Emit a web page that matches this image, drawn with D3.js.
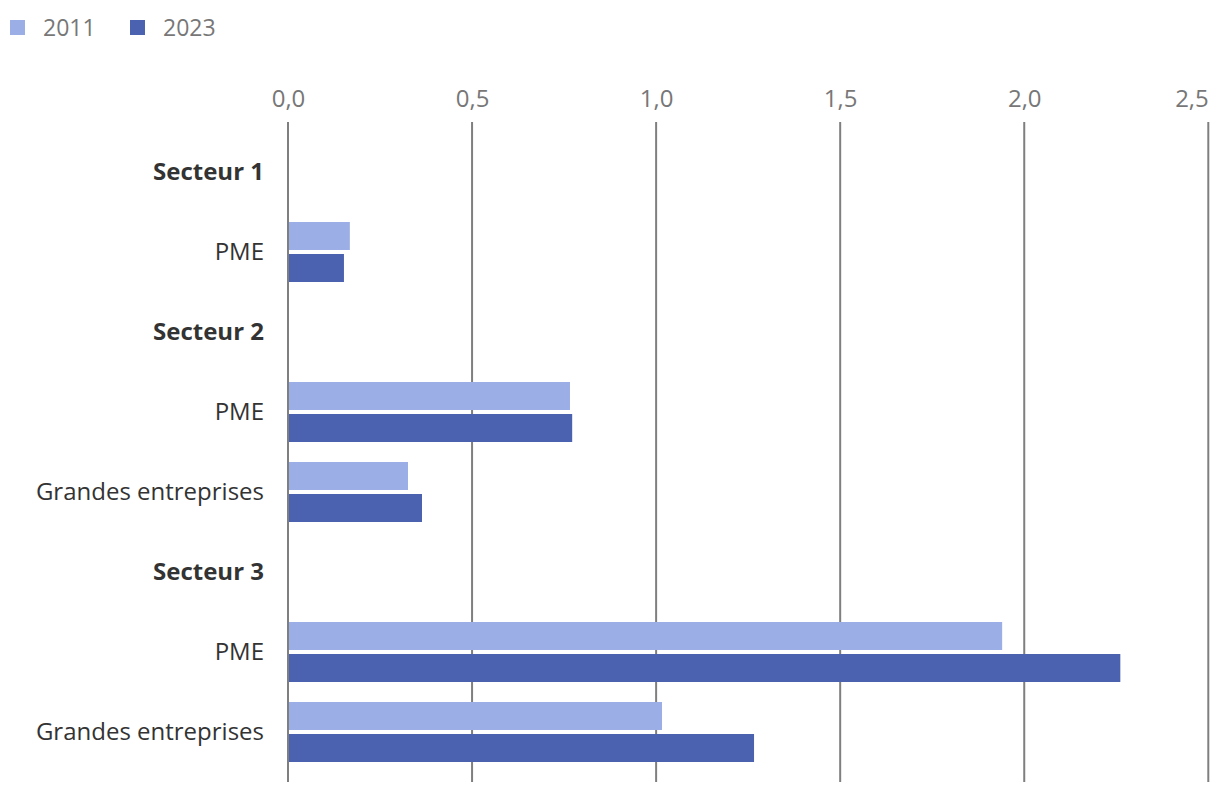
<!DOCTYPE html>
<html><head><meta charset="utf-8">
<script src="https://cdn.jsdelivr.net/npm/d3@7"></script>
<style>
html,body{margin:0;padding:0;background:#fff;}
text{font-family:"Open Sans","Noto Sans",sans-serif;}
</style></head>
<body><svg id="chart" width="1220" height="794"></svg>
<script>
const rows = ["Secteur 1","PME","Secteur 2","PME","Grandes entreprises","Secteur 3","PME","Grandes entreprises"];
const isHeader = [true,false,true,false,false,true,false,false];
const series = ["2011","2023"];
const values2011 = [null,0.168,null,0.766,0.326,null,1.940,1.016];
const values2023 = [null,0.152,null,0.772,0.364,null,2.261,1.266];
const xTicks = [0,0.5,1.0,1.5,2.0,2.5];
const colors = ["#9caee6","#4a62b0"];

const svg = d3.select("#chart");
const x = d3.scaleLinear().domain([0,2.5]).range([288,1208.3]);
const y = d3.scaleBand().domain(d3.range(rows.length)).range([132,772]).padding(0);
const y1 = d3.scaleBand().domain(series).range([10,70]).paddingInner(0.125).paddingOuter(0);
const fmt = d => d.toFixed(1).replace(".",",");

// gridlines
svg.append("g").selectAll("line").data(xTicks).join("line")
  .attr("x1",d=>x(d)).attr("x2",d=>x(d)).attr("y1",122).attr("y2",782)
  .attr("stroke","#7f7f7f").attr("stroke-width",2);

// top axis labels
const ax = svg.append("g").attr("transform","translate(0,107)")
  .call(d3.axisTop(x).tickValues(xTicks).tickFormat(fmt).tickSize(0).tickPadding(0));
ax.select(".domain").remove();
ax.selectAll("text").attr("font-size",24).attr("fill","#777")
  .attr("font-family","'Open Sans',sans-serif").attr("dy",0)
  .attr("text-anchor",(d,i)=> i===xTicks.length-1 ? "end" : "middle");

// bars
const data = [values2011, values2023];
series.forEach((s,si)=>{
  svg.append("g").selectAll("rect")
    .data(rows.map((r,i)=>({i,v:data[si][i]})).filter(d=>d.v!=null))
    .join("rect")
    .attr("x",x(0)+1).attr("y",d=>y(d.i)+y1(s))
    .attr("width",d=>x(d.v)-x(0)-1).attr("height",y1.bandwidth())
    .attr("fill",colors[si]);
});

// row labels
svg.append("g").selectAll("text").data(rows).join("text")
  .attr("x",264).attr("y",(d,i)=>y(i)+y.bandwidth()/2+8)
  .attr("text-anchor","end").attr("font-size",24)
  .attr("font-weight",(d,i)=>isHeader[i]?"bold":"normal")
  .attr("fill","#333").text(d=>d);

// legend
const legX = [10,130];
const lg = svg.append("g");
series.forEach((s,i)=>{
  lg.append("rect").attr("x",legX[i]).attr("y",20).attr("width",15).attr("height",15).attr("fill",colors[i]);
  lg.append("text").attr("x",legX[i]+33).attr("y",36).attr("font-size",23).attr("fill","#777").text(s);
});
</script></body></html>
